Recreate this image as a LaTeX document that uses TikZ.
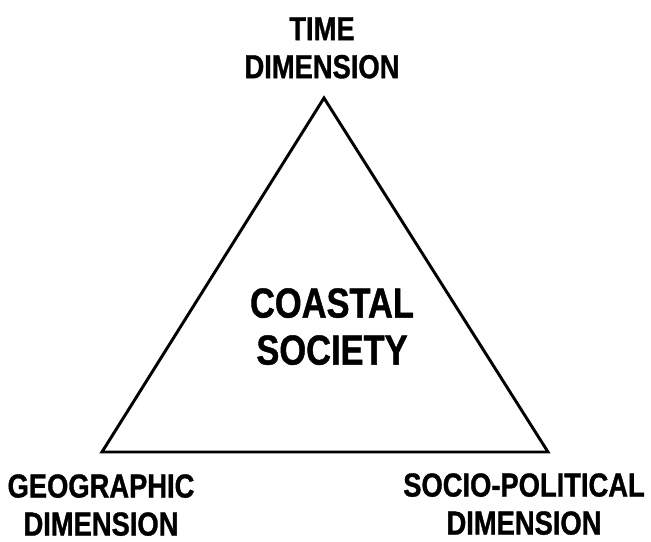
\documentclass[tikz,border=0pt]{standalone}
\usepackage{fontspec}
\newfontfamily\dimfont{Liberation Sans}[FakeStretch=0.82,FakeBold=1]

\begin{document}
\begin{tikzpicture}[x=0.75pt,y=0.75pt,yscale=-1,xscale=1,
    dimlabel/.style={anchor=north,inner sep=0pt,align=center,font=\dimfont\bfseries\fontsize{25}{28.5}\selectfont},
    corelabel/.style={anchor=north,inner sep=0pt,align=center,font=\dimfont\bfseries\fontsize{31.5}{35.25}\selectfont}]
      \useasboundingbox (0,0) rectangle (651,542);

      %Triangle [id:time-geo-socio]
      \coordinate (top) at (324,98);
      \coordinate (geo) at (102,452);
      \coordinate (socio) at (548,452);
      \draw [line width=2.2pt,line join=miter] (top) -- (socio) -- (geo) -- cycle ;

      % Text Node
      \node [dimlabel] (timeLbl) at (322,17) {TIME\\DIMENSION};
      % Text Node
      \node [dimlabel] (geoLbl) at (101,474) {GEOGRAPHIC\\DIMENSION};
      % Text Node
      \node [dimlabel] (socioLbl) at (524,473) {SOCIO-POLITICAL\\DIMENSION};
      % Text Node
      \node [corelabel] (coastLbl) at (332,288) {COASTAL\\SOCIETY};
\end{tikzpicture}
\end{document}
